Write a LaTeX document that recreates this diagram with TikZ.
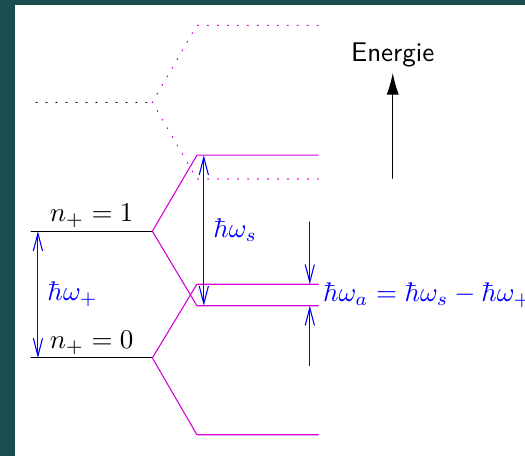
\documentclass[tikz,border=0pt]{standalone}
\usetikzlibrary{arrows.meta}
\definecolor{bgteal}{RGB}{27,77,78}
\definecolor{splitmag}{RGB}{214,0,214}
\begin{document}
\begin{tikzpicture}[line cap=round,line join=round,
  split/.style={splitmag},
  dots/.style={dash pattern=on 0.4pt off 3.3pt},
  gap/.style={blue,arrows={-Straight Barb[length=6.5pt,width=3.4pt]}},
  gapboth/.style={blue,arrows={Straight Barb[length=6.5pt,width=3.4pt]-Straight Barb[length=6.5pt,width=3.4pt]}}]
% two coupled levels n_+ = 0, 1 split into symmetric and antisymmetric states

% frame
\fill[bgteal] (-0.404,-1.276) rectangle (6.432,4.661);
\fill[white] (-0.208,-1.276) rectangle (6.432,4.596);
\useasboundingbox (-0.404,-1.276) rectangle (6.432,4.661);

\coordinate (A0) at (0,0);
\coordinate (B0) at (1.58,0);
\coordinate (A1) at (0,1.65);
\coordinate (B1) at (1.58,1.65);
\coordinate (A2) at (0.065,3.33);
\coordinate (B2) at (1.58,3.33);

% split states
\coordinate (U0) at (2.16,0.96);  \coordinate (V0) at (3.74,0.96);
\coordinate (D0) at (2.16,-1.0);  \coordinate (E0) at (3.74,-1.0);
\coordinate (U1) at (2.16,2.64);  \coordinate (V1) at (3.74,2.64);
\coordinate (D1) at (2.16,0.68);  \coordinate (E1) at (3.74,0.68);
\coordinate (U2) at (2.16,4.33);  \coordinate (V2) at (3.74,4.33);
\coordinate (D2) at (2.16,2.33);  \coordinate (E2) at (3.74,2.33);

% unsplit levels
\draw (A0)--(B0) node[midway,above,inner sep=1pt] (n0) {$n_+ = 0$};
\draw (A1)--(B1) node[midway,above,inner sep=1pt] (n1) {$n_+ = 1$};
\draw[dots] (A2)--(B2);

% split levels
\draw[split] (V0)--(U0)--(B0)--(D0)--(E0);
\draw[split] (V1)--(U1)--(B1)--(D1)--(E1);
\draw[split,dots] (V2)--(U2)--(B2)--(D2)--(E2);

% energy differences
\coordinate (P1) at (0.09,1.65);
\coordinate (P0) at (0.09,0);
\draw[gapboth] (P1)--(P0) node[midway,right] (wp) {$\hbar\omega_+$};

\coordinate (S1) at (2.25,2.64);
\coordinate (S0) at (2.25,0.68);
\draw[gapboth] (S1)--(S0) node[midway,right] (ws) {$\hbar\omega_s$};

\coordinate (T1) at (3.63,1.77);
\coordinate (T0) at (3.63,-0.10);
\coordinate (R1) at (3.63,0.96);
\coordinate (R0) at (3.63,0.68);
\draw[gap] (T1)--(R1);
\draw[gap] (T0)--(R0);
\node[blue,right,inner sep=1.6pt] (wa) at (3.74,0.82) {$\hbar\omega_a = \hbar\omega_s - \hbar\omega_+$};

% energy axis
\coordinate (F0) at (4.71,2.34);
\coordinate (F1) at (4.71,3.71);
\draw[-{Latex[length=8pt,width=4.5pt]}] (F0)--(F1) node[above,inner sep=2pt] (en) {\sffamily Energie};

\end{tikzpicture}
\end{document}
